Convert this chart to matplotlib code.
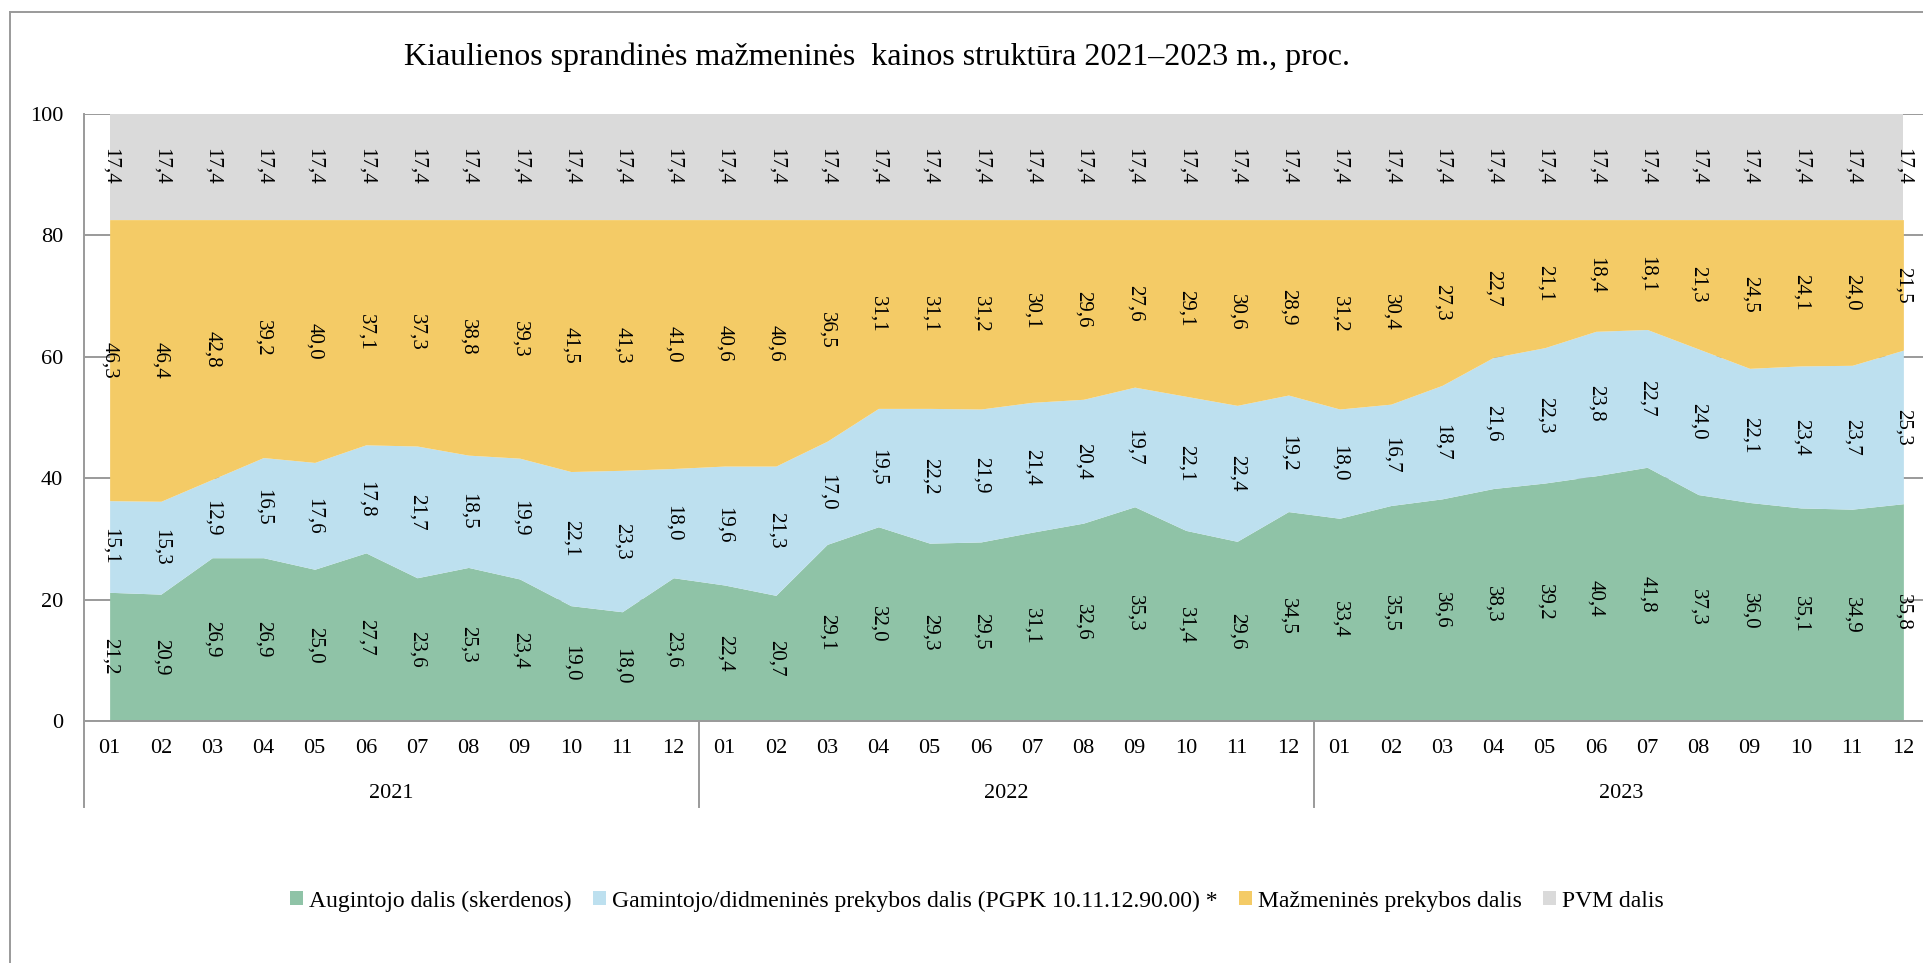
import numpy as np
import matplotlib
matplotlib.use("Agg")
from matplotlib import pyplot as plt
from matplotlib.patches import Patch
from matplotlib.lines import Line2D

plt.rcParams['font.family'] = ['Liberation Serif', 'DejaVu Serif']

months = ["01", "02", "03", "04", "05", "06", "07", "08", "09", "10", "11", "12"] * 3
years = ["2021", "2022", "2023"]

augintojo = [21.2, 20.9, 26.9, 26.9, 25.0, 27.7, 23.6, 25.3, 23.4, 19.0, 18.0, 23.6,
             22.4, 20.7, 29.1, 32.0, 29.3, 29.5, 31.1, 32.6, 35.3, 31.4, 29.6, 34.5,
             33.4, 35.5, 36.6, 38.3, 39.2, 40.4, 41.8, 37.3, 36.0, 35.1, 34.9, 35.8]
gamintojo = [15.1, 15.3, 12.9, 16.5, 17.6, 17.8, 21.7, 18.5, 19.9, 22.1, 23.3, 18.0,
             19.6, 21.3, 17.0, 19.5, 22.2, 21.9, 21.4, 20.4, 19.7, 22.1, 22.4, 19.2,
             18.0, 16.7, 18.7, 21.6, 22.3, 23.8, 22.7, 24.0, 22.1, 23.4, 23.7, 25.3]
mazmenine = [46.3, 46.4, 42.8, 39.2, 40.0, 37.1, 37.3, 38.8, 39.3, 41.5, 41.3, 41.0,
             40.6, 40.6, 36.5, 31.1, 31.1, 31.2, 30.1, 29.6, 27.6, 29.1, 30.6, 28.9,
             31.2, 30.4, 27.3, 22.7, 21.1, 18.4, 18.1, 21.3, 24.5, 24.1, 24.0, 21.5]
pvm = [17.4] * 36

series = [augintojo, gamintojo, mazmenine, pvm]
labels = ["Augintojo dalis (skerdenos)",
          "Gamintojo/didmeninės prekybos dalis (PGPK 10.11.12.90.00) *",
          "Mažmeninės prekybos dalis",
          "PVM dalis"]
colors = ['#8fc3a7', '#bde0ef', '#f4cb66', '#dadada']

W, H = 1923, 963
fig = plt.figure(figsize=(W / 100, H / 100), dpi=100)
ax = fig.add_axes([84 / W, 1 - 721 / H, (1929 - 84) / W, (721 - 114) / H])

x = np.arange(len(months))
bottom = np.zeros(len(x))
for vals, col in zip(series, colors):
    vals = np.array(vals)
    ax.fill_between(x, bottom, bottom + vals, color=col, lw=0, zorder=2)
    for i, v in enumerate(vals):
        ax.text(i, bottom[i] + v / 2, f"{v:.1f}".replace('.', ','), rotation=270,
                ha='center', va='center', fontsize=15, zorder=3)
    bottom = bottom + vals

ax.set_xlim(-0.5, len(x) - 0.5)
ax.set_ylim(0, 100)
ax.set_yticks([0, 20, 40, 60, 80, 100])
ax.yaxis.grid(True, color='#9a9a9a', lw=1.4)
ax.set_axisbelow(True)
ax.tick_params(axis='y', length=0, labelsize=16, pad=15)
ax.set_xticks(x)
ax.set_xticklabels(months)
ax.tick_params(axis='x', length=0, labelsize=16, pad=13)

for s in ['top', 'right']:
    ax.spines[s].set_visible(False)
for s in ['left', 'bottom']:
    ax.spines[s].set_color('#9a9a9a')
    ax.spines[s].set_linewidth(1.4)

# year grouping under the month labels
low = (721 - 807) / (721 - 114)
trans = ax.get_xaxis_transform()
for xb in [-0.5, 11.5, 23.5]:
    ax.plot([xb, xb], [0, low], color='#9a9a9a', lw=1.4, transform=trans, clip_on=False)
for k, yr in enumerate(years):
    ax.text(12 * k + 5.5, (721 - 793) / (721 - 114), yr, transform=trans,
            ha='center', va='center', fontsize=16)

fig.text(877 / W, 1 - 57 / H, "Kiaulienos sprandinės mažmeninės  kainos struktūra 2021–2023 m., proc.",
         ha='center', va='center', fontsize=23)

handles = [Patch(facecolor=c, edgecolor='none') for c in colors]
fig.legend(handles, labels, loc='center', bbox_to_anchor=(977 / W, 1 - 901 / H), ncol=4,
           frameon=False, fontsize=17, handlelength=0.55, handleheight=0.55,
           handletextpad=0.25, columnspacing=0.9)

# outer chart frame
fig.add_artist(Line2D([10 / W, 10 / W], [0, 1 - 12 / H], color='#9a9a9a', lw=1.4))
fig.add_artist(Line2D([10 / W, 1], [1 - 12 / H, 1 - 12 / H], color='#9a9a9a', lw=1.4))

fig.savefig("out.png", dpi=100)
